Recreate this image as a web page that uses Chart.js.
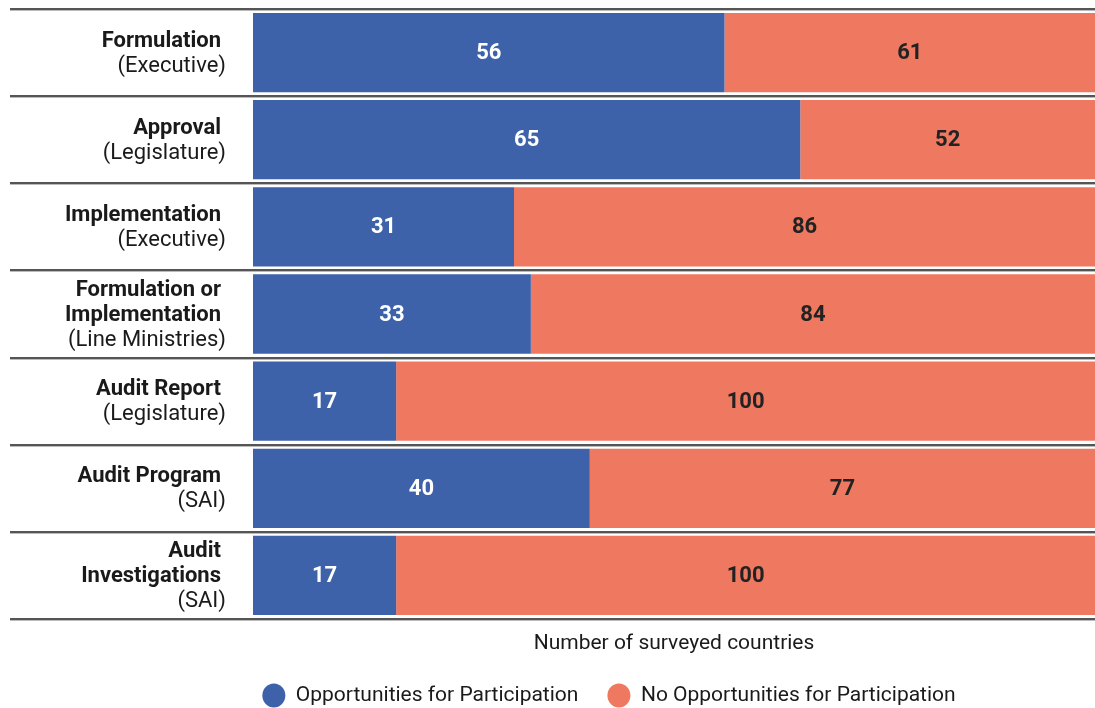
<!DOCTYPE html>
<html>
<head>
<meta charset="utf-8">
<script src="https://cdn.jsdelivr.net/npm/chart.js@4.4.1/dist/chart.umd.min.js"></script>
<style>
  html, body { margin: 0; padding: 0; background: #fff; overflow: hidden; }
  #wrap { width: 1095px; height: 708px; }
</style>
</head>
<body>
<div id="wrap"><canvas id="c"></canvas></div>
<script>
// stages of the budget process: bold heading lines + institution in brackets
const categoryTitles = [
  ['Formulation'],
  ['Approval'],
  ['Implementation'],
  ['Formulation or', 'Implementation'],
  ['Audit Report'],
  ['Audit Program'],
  ['Audit', 'Investigations'],
];
const categoryBodies = ['(Executive)', '(Legislature)', '(Executive)', '(Line Ministries)', '(Legislature)', '(SAI)', '(SAI)'];

const withParticipation = [56, 65, 31, 33, 17, 40, 17];
const withoutParticipation = [61, 52, 86, 84, 100, 77, 100];
const seriesNames = ['Opportunities for Participation', 'No Opportunities for Participation'];
const axisTitle = 'Number of surveyed countries';
const axisMax = 100; // the reference is cropped on the right

const FONT = 'Roboto, "Liberation Sans", sans-serif';
const BLUE = '#3E62AA';
const ORANGE = '#EF7860';
const INK = '#1a1a1a';

Chart.defaults.font.family = FONT;

// row separators, two-font category labels and value labels
const rowDecor = {
  id: 'rowDecor',
  afterDatasetsDraw(chart) {
    const { ctx, chartArea, scales: { y } } = chart;
    const n = categoryTitles.length;
    const pitch = (chartArea.bottom - chartArea.top) / n;
    ctx.save();
    for (let i = 0; i <= n; i++) {
      const yy = Math.round(chartArea.top + i * pitch);
      ctx.fillStyle = '#555';
      ctx.fillRect(10, yy - 1, chart.width - 10, 2);
      ctx.fillStyle = '#bbb';
      ctx.fillRect(10, yy + 1, chart.width - 10, 1);
    }

    ctx.textBaseline = 'middle';
    ctx.textAlign = 'right';
    ctx.fillStyle = INK;
    categoryTitles.forEach((lines, i) => {
      const all = [...lines, categoryBodies[i]];
      const cy = y.getPixelForValue(i) + 1;
      all.forEach((t, j) => {
        const bold = j < lines.length;
        ctx.font = (bold ? 'bold ' : '') + '22px ' + FONT;
        ctx.fillText(t, bold ? 221 : 226, cy + (j - (all.length - 1) / 2) * 25);
      });
    });

    ctx.textAlign = 'center';
    ctx.font = 'bold 22px ' + FONT;
    chart.data.datasets.forEach((ds, di) => {
      chart.getDatasetMeta(di).data.forEach((bar, i) => {
        const { x, base, y: cy } = bar.getProps(['x', 'base', 'y'], true);
        const left = Math.max(Math.min(base, x), chartArea.left);
        const right = Math.min(Math.max(base, x), chartArea.right);
        ctx.fillStyle = di === 0 ? '#fff' : '#222';
        ctx.fillText(ds.data[i], (left + right) / 2, cy + 1);
      });
    });
    ctx.restore();
  },
};

new Chart(document.getElementById('c'), {
  type: 'bar',
  data: {
    labels: categoryTitles.map((l, i) => [...l, categoryBodies[i]]),
    datasets: [
      { label: seriesNames[0], data: withParticipation, backgroundColor: BLUE },
      { label: seriesNames[1], data: withoutParticipation, backgroundColor: ORANGE },
    ],
  },
  options: {
    indexAxis: 'y',
    responsive: true,
    maintainAspectRatio: false,
    animation: false,
    // negative bottom pad: the legend markers are cut by the lower edge in the reference
    layout: { padding: { left: 123, top: 9, right: 0, bottom: -8 } },
    datasets: { bar: { barPercentage: 0.91, categoryPercentage: 1, borderWidth: 0 } },
    scales: {
      x: {
        stacked: true, min: 0, max: axisMax,
        grid: { display: false }, border: { display: false }, ticks: { display: false },
        title: { display: true, text: axisTitle, color: INK, font: { size: 21 }, padding: { top: 4, bottom: 0 } },
        afterFit: (s) => { s.height = 37; },
      },
      y: {
        stacked: true,
        grid: { display: false }, border: { display: false }, ticks: { display: false },
        afterFit: (s) => { s.width = 130; },
      },
    },
    plugins: {
      legend: {
        position: 'bottom',
        labels: {
          usePointStyle: true, pointStyle: 'circle', boxHeight: 17, pointStyleWidth: 23,
          color: INK, font: { size: 21 }, padding: 29,
        },
      },
      tooltip: { enabled: false },
    },
  },
  plugins: [rowDecor],
});
</script>
</body>
</html>
